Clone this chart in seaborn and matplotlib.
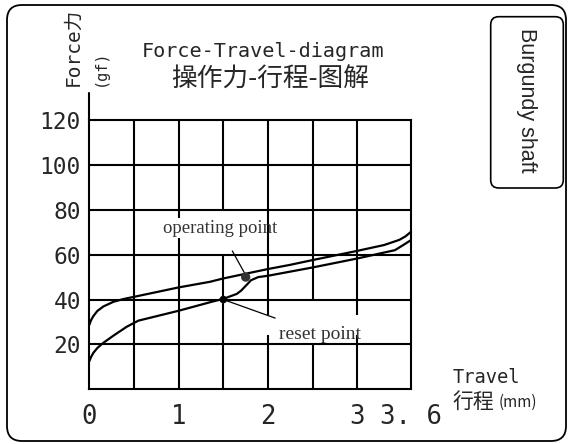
import matplotlib
matplotlib.use("Agg")
import matplotlib.pyplot as plt
import seaborn as sns
from matplotlib.patches import FancyBboxPatch

# dati (Travel in mm, Force in gf)
upper_x = [0, 0.02, 0.045, 0.09, 0.157, 0.27, 0.38, 0.5, 1.0, 1.35, 1.5, 2.0, 2.24, 2.5, 3.0, 3.3, 3.47, 3.54, 3.6]
upper_y = [28.7, 30.8, 32.6, 34.9, 36.9, 39.0, 40.2, 41.2, 45.4, 47.9, 49.4, 53.6, 55.4, 57.6, 61.7, 64.3, 66.6, 68.2, 70.2]

lower_x = [0, 0.02, 0.045, 0.09, 0.157, 0.27, 0.42, 0.55, 1.0, 1.37, 1.5, 1.65, 1.70, 1.76, 1.81, 1.89, 2.0, 2.5, 3.0, 3.42, 3.51, 3.6]
lower_y = [12.5, 14.4, 16.2, 18.4, 20.7, 23.9, 27.9, 30.6, 35.0, 39.0, 40.3, 42.5, 44.0, 46.5, 48.6, 50.0, 50.6, 54.3, 58.3, 62.0, 64.2, 66.5]

operating_pt = (1.75, 50.0)
reset_pt = (1.5, 40.0)

x_ticks = [0, 0.5, 1, 1.5, 2, 2.5, 3, 3.6]
x_labels = ["0", "", "1", "", "2", "", "3", "3. 6"]
y_ticks = [0, 20, 40, 60, 80, 100, 120]
y_labels = ["", "20", "40", "60", "80", "100", "120"]

grid_x = [0.5, 1, 1.5, 2, 2.5, 3]
grid_y = [20, 40, 60, 80, 100]
# interruzioni delle linee verticali (come nel disegno originale)
grid_gaps = {1: (67.4, 76.3), 1.5: (60, 80), 2: (24.2, 33.1), 2.5: (20, 40), 3: (24.2, 33.1)}

sns.set_style("white")
plt.rcParams["font.family"] = ["DejaVu Sans Mono", "Noto Sans CJK SC"]

fig = plt.figure(figsize=(5.68, 4.44), dpi=100)
ax = fig.add_axes([0.1572, 0.1232, 0.5664, 0.6065])

lw = 1.5
# griglia
for gx in grid_x:
    if gx in grid_gaps:
        a, b = grid_gaps[gx]
        ax.vlines(gx, 0, a, color="black", lw=lw, zorder=1)
        ax.vlines(gx, b, 120, color="black", lw=lw, zorder=1)
    else:
        ax.vlines(gx, 0, 120, color="black", lw=lw, zorder=1)
ax.hlines(grid_y, 0, 3.6, color="black", lw=lw, zorder=1)

sns.lineplot(x=upper_x, y=upper_y, ax=ax, color="black", lw=1.6, estimator=None, zorder=3)
sns.lineplot(x=lower_x, y=lower_y, ax=ax, color="black", lw=1.6, estimator=None, zorder=3)

sns.scatterplot(x=[operating_pt[0]], y=[operating_pt[1]], ax=ax, color="#333333", s=45,
                edgecolor="none", zorder=4)
sns.scatterplot(x=[reset_pt[0]], y=[reset_pt[1]], ax=ax, color="black", s=30,
                edgecolor="none", zorder=4)

ax.annotate("operating point", xy=(1.74, 51.6), xytext=(1.46, 71.8),
            ha="center", va="center", fontsize=13.5, family="Liberation Serif", color="#333333",
            arrowprops=dict(arrowstyle="-", color="black", lw=0.9, shrinkA=9, shrinkB=0))
ax.annotate("reset point", xy=reset_pt, xytext=(2.58, 24.6),
            ha="center", va="center", fontsize=14, family="Liberation Serif", color="#333333",
            arrowprops=dict(arrowstyle="-", color="black", lw=0.9, shrinkA=9, shrinkB=0))

ax.set_xlim(0, 3.6)
ax.set_ylim(0, 120)
ax.set_xticks(x_ticks)
ax.set_xticklabels(x_labels, fontsize=18.5, family="DejaVu Sans Mono")
ax.set_yticks(y_ticks)
ax.set_yticklabels(y_labels, fontsize=16.5, family="DejaVu Sans Mono")
ax.tick_params(axis="both", direction="out", length=5.5, width=lw, color="black")
ax.tick_params(axis="x", pad=5)
ax.tick_params(axis="y", pad=0.5)
ax.set_xlabel("")
ax.set_ylabel("")
for s in ax.spines.values():
    s.set_color("black")
    s.set_linewidth(lw)
# asse y prolungato sopra 120
ax.plot([0, 0], [120, 132], color="black", lw=lw, clip_on=False)

# testi
fig.text(0.463, 0.8723, "Force-Travel-diagram", ha="center", va="baseline", fontsize=14.5,
         family="DejaVu Sans Mono")
fig.text(0.4754, 0.8198, "操作力-行程-图解", ha="center", va="center", fontsize=18.5,
         family=["Noto Sans CJK SC"])
fig.text(0.1285, 0.895, "Force力", rotation=90, ha="center", va="center", fontsize=14,
         family=["DejaVu Sans Mono", "Noto Sans CJK SC"])
fig.text(0.176, 0.848, "(gf)", rotation=90, ha="center", va="center", fontsize=11,
         family="DejaVu Sans Mono")
fig.text(0.7975, 0.1374, "Travel", ha="left", va="baseline", fontsize=13.5,
         family="DejaVu Sans Mono")
fig.text(0.7975, 0.0946, "行程", ha="left", va="center", fontsize=15,
         family=["Noto Sans CJK SC"])
fig.text(0.877, 0.0935, "(mm)", ha="left", va="center", fontsize=11,
         family=["Noto Sans CJK SC"])

# riquadro "Burgundy shaft"
box = FancyBboxPatch((4.907, 2.56), 0.726, 1.713, boxstyle="round,pad=0,rounding_size=0.08",
                     transform=fig.dpi_scale_trans, facecolor="none", edgecolor="black", lw=1.2)
fig.add_artist(box)
fig.text(0.9273, 0.7748, "Burgundy shaft", rotation=-90, ha="center", va="center",
         fontsize=15.5, family="Liberation Sans")

# cornice esterna
frame = FancyBboxPatch((0.07, 0.03), 5.59, 4.36, boxstyle="round,pad=0,rounding_size=0.15",
                       transform=fig.dpi_scale_trans, facecolor="none", edgecolor="black", lw=1.3)
fig.add_artist(frame)

fig.savefig("out.png", dpi=100)
